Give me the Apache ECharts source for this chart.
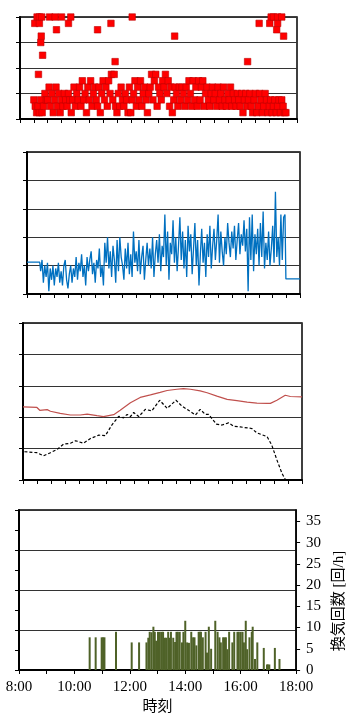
<!DOCTYPE html>
<html>
<head>
<meta charset="utf-8">
<script src="https://cdn.jsdelivr.net/npm/echarts@6/dist/echarts.min.js"></script>
<style>
  html, body { margin: 0; padding: 0; background: #fff; }
  #chart { width: 355px; height: 716px; }
</style>
</head>
<body>
<div id="chart"></div>
<script>
// time is in minutes of the day (480 = 8:00, 1080 = 18:00)
const timeMin = 480
const timeMax = 1080

// panel 1: discrete levels (0..16), sampled every 3 min from 8:30
const levelStart = 510
const levelStep = 3
const levels = [
  3, 2, 1, 2, 1, 3, 1, 2, 4, 3,
  3, 5, 2, 4, 1, 3, 5, 2, 4, 1, 3, 2, 4, 3,
  2, 4, 3, 1, 3, 5, 2, 4, 3, 5,
  2, 6, 3, 4, 1, 5, 3, 6, 2, 4, 5, 3, 2, 5,
  1, 4, 6, 3, 5, 2, 6, 4, 7, 3, 7, 2,
  1, 4, 2, 5, 3, 2, 4, 3, 1, 5, 1, 3,
  4, 6, 2, 5, 3, 6, 2, 4, 5, 3, 1, 4,
  5, 7, 3, 6, 7, 2, 5, 4, 3, 6, 5, 7,
  4, 6, 2, 5, 1, 3, 5, 4, 2, 5, 3, 5,
  4, 2, 5, 3, 6, 4, 2, 6, 3, 5, 2, 6,
  3, 5, 6, 2, 4, 5, 3, 2, 4, 5, 3, 4,
  2, 5, 3, 4, 2, 5, 3, 2, 4, 3, 5, 2,
  4, 3, 2, 4, 3, 2, 4, 1, 3, 4, 2, 3,
  4, 2, 1, 3, 4, 1, 2, 4, 3, 1, 2, 4,
  3, 1, 2, 3, 1, 2, 3, 1, 2, 3, 1, 3, 2, 1, 1
]
// panel 1: isolated high readings [minute, level]
const levelOutliers = [
  [512, 15], [517, 16], [520, 7], [522, 16], [522, 15], [525, 12], [526, 13],
  [527, 16], [529, 10], [544, 16], [556, 16], [559, 14], [570, 16], [585, 15],
  [590, 16], [648, 14], [677, 15], [686, 9], [723, 16], [815, 13], [973, 9],
  [998, 15], [1021, 15], [1024, 16], [1029, 16], [1036, 14], [1038, 15],
  [1038, 16], [1047, 16], [1051, 13]
]

// panel 2: blue signal, every 3 min from 8:30
const blueStart = 510
const blueStep = 3
const blueValues = [
  0.8, 1.2, 0.4, 1.0, 0.6, 1.1, 0.1, 0.9, 0.5, 1.0,
  0.3, 0.9, 0.6, 1.1, 0.4, 0.8, 0.3, 1.0, 1.2, 0.5,
  0.2, 0.7, 1.0, 0.4, 0.9, 0.6, 1.3, 0.5, 1.1, 0.8,
  1.4, 0.6, 1.0, 0.3, 1.3, 0.8, 1.2, 1.5, 0.7, 1.1,
  0.4, 1.2, 0.9, 1.6, 0.6, 1.0, 0.3, 1.8, 1.1, 2.0,
  0.9, 1.5, 0.6, 1.7, 1.2, 0.4, 1.9, 0.8, 2.0, 1.3,
  1.0, 0.5, 1.6, 0.9, 1.8, 0.7, 1.4, 0.6, 2.2, 1.1,
  1.5, 0.8, 1.9, 0.7, 1.3, 1.7, 0.5, 1.2, 1.8, 1.0,
  1.6, 0.9, 2.0, 0.6, 1.4, 1.9, 1.1, 2.1, 0.8, 1.7,
  1.3, 2.8, 1.0, 2.2, 0.5, 1.8, 1.4, 2.6, 1.1, 2.0,
  0.8, 1.7, 2.7, 1.2, 2.2, 0.9, 1.9, 0.6, 2.4, 1.5,
  2.1, 0.7, 1.6, 2.5, 1.0, 1.9, 0.3, 1.4, 2.3, 1.1,
  1.8, 0.6, 2.1, 1.3, 2.4, 0.9, 1.7, 2.3, 1.2, 1.9,
  2.8, 1.1, 2.2, 1.5, 1.0, 2.0, 1.4, 2.5, 1.8, 1.3,
  2.2, 1.6, 2.4, 1.2, 1.9, 2.5, 1.4, 2.1, 1.7, 2.6,
  1.5, 2.3, 0.1, 2.7, 1.2, 2.8, 0.8, 2.1, 1.4, 2.3,
  1.0, 2.5, 1.3, 2.9, 0.9, 1.8, 1.2, 2.2, 1.0, 1.6,
  2.4, 1.1, 3.6, 1.3, 2.0, 1.0, 2.8, 1.2, 2.7, 2.8
]
const blueBefore = [[480, 1.12], [508, 1.12]]
const blueAfter = [[1049, 0.53], [1080, 0.53]]

// panel 3: red line and black dashed line [minute, value]
const redLine = [
  [480, 2.33], [510, 2.31], [516, 2.22], [532, 2.24], [539, 2.19], [560, 2.12],
  [582, 2.07], [603, 2.07], [618, 2.10], [639, 2.05], [653, 2.02], [675, 2.08],
  [689, 2.22], [711, 2.46], [732, 2.63], [754, 2.71], [775, 2.79], [790, 2.85],
  [811, 2.89], [825, 2.91], [840, 2.89], [861, 2.84], [876, 2.78], [897, 2.67],
  [919, 2.57], [940, 2.53], [962, 2.48], [983, 2.45], [1005, 2.44], [1012, 2.44],
  [1026, 2.54], [1044, 2.70], [1055, 2.66], [1080, 2.65]
]
const blackLine = [
  [483, 0.90], [510, 0.87], [524, 0.77], [539, 0.87], [553, 0.97], [567, 1.14],
  [582, 1.17], [593, 1.25], [610, 1.17], [625, 1.32], [643, 1.43], [657, 1.41],
  [671, 1.75], [686, 2.03], [696, 1.98], [704, 2.09], [711, 2.02], [718, 2.15],
  [729, 2.02], [743, 2.25], [757, 2.20], [774, 2.54], [790, 2.28], [809, 2.54],
  [822, 2.35], [836, 2.22], [851, 2.07], [861, 2.25], [872, 2.09], [879, 2.09],
  [896, 1.78], [908, 1.75], [922, 1.82], [933, 1.71], [947, 1.69], [972, 1.64],
  [983, 1.50], [1005, 1.38], [1015, 1.11], [1026, 0.64], [1037, 0.21], [1044, 0.02]
]

// panel 4: air changes per hour [minute, 回/h]
const airChanges = [
  [633, 7.7], [646, 7.7], [659, 7.7], [662, 7.7], [665, 7.7], [690, 9.0],
  [724, 6.5], [740, 6.5], [756, 6.5], [760, 7.6], [763, 9.0], [767, 8.9],
  [771, 10.2], [774, 9.0], [777, 6.9], [781, 9.0], [785, 9.0], [789, 9.0],
  [792, 9.0], [796, 7.6], [799, 7.6], [803, 9.0], [806, 7.6], [809, 9.0],
  [814, 7.6], [818, 6.6], [821, 9.0], [824, 9.0], [828, 9.0], [833, 6.5],
  [836, 9.0], [840, 11.6], [844, 6.5], [848, 6.4], [853, 9.0], [857, 7.7],
  [860, 7.7], [864, 5.8], [869, 9.0], [872, 9.0], [874, 9.0], [878, 7.7],
  [884, 9.0], [887, 4.1], [891, 10.2], [896, 5.0], [905, 11.6], [910, 9.0],
  [914, 7.7], [917, 6.5], [922, 7.7], [925, 7.7], [928, 7.7], [931, 4.9],
  [935, 9.0], [942, 6.5], [946, 9.0], [953, 9.0], [956, 9.0], [960, 9.0],
  [964, 9.0], [967, 6.5], [971, 11.6], [974, 4.9], [979, 7.7], [984, 9.0],
  [986, 10.2], [991, 2.6], [996, 6.5], [1010, 5.2], [1017, 1.3], [1019, 1.3],
  [1022, 1.3], [1034, 5.2], [1044, 2.6]
]
const airMax = 37.7
const airTicks = 5

const chart = echarts.init(document.getElementById('chart'))
const font = "'Liberation Serif', 'Noto Sans CJK JP', serif"

function timeAxis(gridIndex, interval, showLabel) {
  return {
    type: 'value',
    gridIndex: gridIndex,
    min: timeMin,
    max: timeMax,
    interval: interval,
    axisLine: { show: true, onZero: false, lineStyle: { color: '#000', width: 2 } },
    axisTick: { show: true, length: 4, lineStyle: { color: '#000', width: 1 } },
    axisLabel: {
      show: showLabel,
      margin: 10,
      color: '#000',
      fontFamily: font,
      fontSize: 15,
      // label every second hour only
      formatter: (v) => (v % 120 === 0 ? (v / 60) + ':00' : ''),
    },
    splitLine: { show: false },
  }
}

function leftAxis(gridIndex, max, interval) {
  return {
    type: 'value',
    gridIndex: gridIndex,
    min: 0,
    max: max,
    interval: interval,
    axisLine: { show: true, lineStyle: { color: '#000', width: 2 } },
    axisTick: { show: true, length: 4, lineStyle: { color: '#000', width: 1 } },
    axisLabel: { show: false },
    splitLine: { show: true, lineStyle: { color: '#333', width: 1 } },
  }
}

const scatterData = levels.map((v, i) => [levelStart + i * levelStep, v]).concat(levelOutliers)
const blueData = blueBefore
  .concat(blueValues.map((v, i) => [blueStart + i * blueStep, v]))
  .concat(blueAfter)

const airLeft = leftAxis(3, airMax, airMax / 4)
airLeft.minorTick = { show: true, splitNumber: 2, length: 4, lineStyle: { color: '#000', width: 1 } }

const option = {
  animation: false,
  backgroundColor: '#fff',
  grid: [
    { left: 20, top: 17, width: 277, height: 102, show: true, borderColor: '#000', borderWidth: 1.5 },
    { left: 27, top: 152, width: 273, height: 142, show: true, borderColor: '#000', borderWidth: 1.5 },
    { left: 23, top: 323, width: 279, height: 157, show: true, borderColor: '#000', borderWidth: 1.5 },
    { left: 19, top: 510, width: 280, height: 161, show: true, borderColor: '#000', borderWidth: 1.5 },
  ],
  xAxis: [
    timeAxis(0, 30, false),
    timeAxis(1, 30, false),
    timeAxis(2, 30, false),
    Object.assign(timeAxis(3, 60, true), {
      name: '時刻',
      nameLocation: 'middle',
      nameGap: 30,
      nameTextStyle: { color: '#000', fontFamily: font, fontSize: 15 },
    }),
  ],
  yAxis: [
    leftAxis(0, 16, 4),
    leftAxis(1, 5, 1),
    leftAxis(2, 5, 1),
    airLeft,
    {
      type: 'value',
      gridIndex: 3,
      position: 'right',
      min: 0,
      max: airMax,
      interval: airTicks,
      axisLine: { show: true, lineStyle: { color: '#000', width: 1.5 } },
      axisTick: { show: true, length: 4, lineStyle: { color: '#000', width: 1 } },
      axisLabel: {
        show: true,
        showMaxLabel: false,
        margin: 10,
        color: '#000',
        fontFamily: font,
        fontSize: 15,
      },
      splitLine: { show: false },
      name: '換気回数 [回/h]',
      nameLocation: 'middle',
      nameRotate: 90,
      nameGap: 34,
      nameTextStyle: { color: '#000', fontFamily: font, fontSize: 15, padding: [0, 22, 0, 0] },
    },
  ],
  series: [
    {
      type: 'scatter',
      xAxisIndex: 0,
      yAxisIndex: 0,
      symbol: 'rect',
      symbolSize: 6.5,
      clip: false,
      itemStyle: { color: '#ff0000', borderColor: '#c00000', borderWidth: 0.6, opacity: 1 },
      data: scatterData,
    },
    {
      type: 'line',
      xAxisIndex: 1,
      yAxisIndex: 1,
      showSymbol: false,
      lineStyle: { color: '#0070c0', width: 1.3 },
      data: blueData,
    },
    {
      type: 'line',
      xAxisIndex: 2,
      yAxisIndex: 2,
      showSymbol: false,
      lineStyle: { color: '#c0504d', width: 1.2 },
      data: redLine,
    },
    {
      type: 'line',
      xAxisIndex: 2,
      yAxisIndex: 2,
      showSymbol: false,
      lineStyle: { color: '#000', width: 1.2, type: [3, 2] },
      data: blackLine,
    },
    {
      type: 'bar',
      xAxisIndex: 3,
      yAxisIndex: 3,
      barWidth: 2,
      itemStyle: { color: '#4f6228' },
      data: airChanges,
    },
  ],
}

chart.setOption(option)

window.addEventListener('resize', () => {
  chart.resize()
})
</script>
</body>
</html>
